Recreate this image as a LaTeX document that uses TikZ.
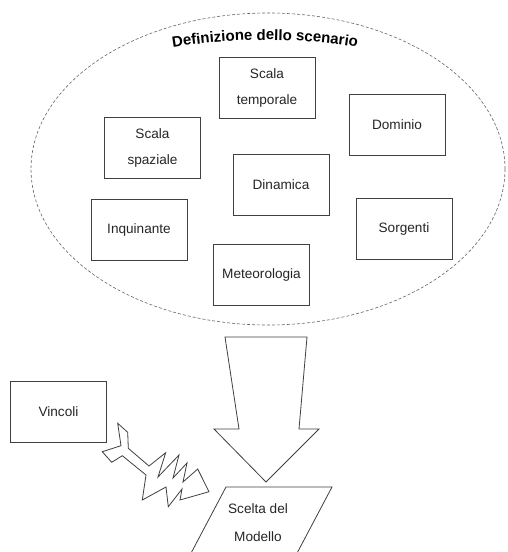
\documentclass[tikz,border=0pt]{standalone}
\usepackage{fontspec}
\setmainfont{Liberation Sans}
\usetikzlibrary{decorations.text}
\begin{document}
\begin{tikzpicture}[x=1pt,y=-1pt,
  box/.style={draw=black!75, line width=0.8pt, minimum width=96pt, minimum height=61pt, inner sep=0pt, align=center, font=\fontsize{13.6}{26}\selectfont, text=black!85},
  outl/.style={draw=black!75, line width=0.8pt, line join=miter},
  lbl/.style={inner sep=0pt, align=center, font=\fontsize{13.6}{28}\selectfont, text=black!85}]
\clip (0,0) rectangle (507,552);
\fill[white] (0,0) rectangle (507,552);
% scenario ellipse
\draw[black!60, line width=0.6pt, dash pattern=on 3pt off 2pt] (268,169) ellipse [x radius=237, y radius=156];
\path[decorate, decoration={text along path, text align=center,
  text={|\fontsize{15}{15}\bfseries\selectfont|Definizione dello scenario}}]
  (150,51.4) .. controls (226.7,36.2) and (303.3,36.2) .. (380,51.4);
% boxes
\node[box] (st) at (267,88) {Scala\\temporale};
\node[box] (dom) at (397,124.5) {Dominio};
\node[box] (ss) at (152.5,147.5) {Scala\\spaziale};
\node[box] (din) at (281,184.5) {Dinamica};
\node[box] (inq) at (139,230) {Inquinante};
\node[box] (sor) at (404,229) {Sorgenti};
\node[box] (met) at (261.5,275) {Meteorologia};
\node[box] (vin) at (58.5,411.5) {Vincoli};
% big arrow
\draw[outl] (225,337) -- (307,337) -- (299,429) -- (319,429) -- (266,482) -- (214,429) -- (239,429) -- cycle;
% model parallelogram
\draw[outl] (189,557) -- (226,487) -- (332,487) -- (295,557);
\node[lbl] (sm) at (258,523) {Scelta del\\Modello};
% lightning bolt
\draw[outl] (117.7,423.3) -- (127.7,432.3) -- (128.3,448.3) -- (149,466)
  -- (165.7,452.7) -- (158,477) -- (179,455) -- (173,478) -- (187,463)
  -- (183,482) -- (197.7,469) -- (209,491.7) -- (180,500) -- (182,489)
  -- (168.3,506.7) -- (166,487) -- (142.3,500) -- (146,475)
  -- (122.3,455.7) -- (111.7,462.3) -- (102.3,451.7) -- (121,445.7) -- cycle;
\end{tikzpicture}
\end{document}
